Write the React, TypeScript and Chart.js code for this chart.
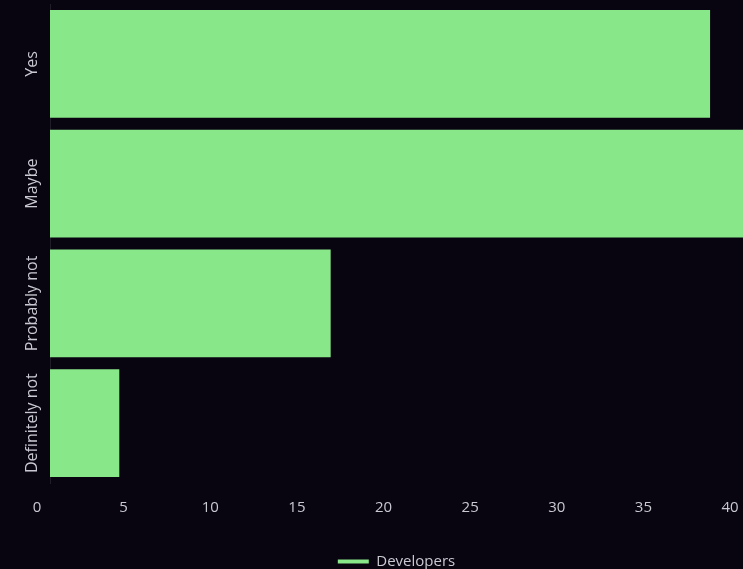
import React, { useEffect, useRef } from "react";
import { Chart, registerables } from "chart.js";

Chart.register(...registerables);

const categories = ["Yes", "Maybe", "Probably not", "Definitely not"];
const developers = [38.1, 40, 16.2, 4];
const seriesLabel = "Developers";
const xMin = 0;
const xMax = 40;
const xStep = 5;

const BG = "#080410";
const BAR = "#88e788";
const TEXT = "#c9c9d1";
const FAMILY = "'Open Sans', sans-serif";

export default function App() {
  const ref = useRef<HTMLCanvasElement>(null);

  useEffect(() => {
    const canvas = ref.current;
    if (!canvas) return;
    const ctx = canvas.getContext("2d")!;
    ctx.font = `normal 16px ${FAMILY}`;
    const widest = Math.max(...categories.map((c) => ctx.measureText(c).width));
    const yPad = 50 - 40 - widest / 2;

    const chart = new Chart(canvas, {
      type: "bar",
      data: {
        labels: categories,
        datasets: [
          {
            label: seriesLabel,
            data: developers,
            backgroundColor: BAR,
            borderColor: BAR,
            borderWidth: 0,
            categoryPercentage: 1,
            barPercentage: 0.9,
          },
        ],
      },
      options: {
        indexAxis: "y",
        animation: false,
        responsive: true,
        maintainAspectRatio: false,
        layout: { padding: { top: 4, left: 0, right: 0, bottom: 0 } },
        scales: {
          x: {
            min: xMin,
            max: xMax,
            grid: { display: false },
            border: { display: false },
            ticks: {
              stepSize: xStep,
              color: TEXT,
              padding: 8,
              labelOffset: -13,
              font: { family: FAMILY, size: 15 },
            },
            afterFit: (s: any) => {
              s.paddingLeft = 0;
              s.paddingRight = 0;
            },
          },
          y: {
            grid: { display: false },
            border: { display: true, color: "rgba(255,255,255,0.10)" },
            ticks: {
              color: TEXT,
              minRotation: 90,
              maxRotation: 90,
              crossAlign: "center",
              padding: yPad,
              font: { family: FAMILY, size: 16 },
            },
            afterFit: (s: any) => {
              s.width = 50;
              s.paddingTop = 0;
              s.paddingBottom = 0;
            },
          },
        },
        plugins: {
          legend: {
            position: "bottom",
            fullSize: false,
            labels: {
              color: TEXT,
              boxWidth: 31,
              boxHeight: 4,
              padding: 29,
              font: { family: FAMILY, size: 15 },
            },
          },
          tooltip: { enabled: false },
        },
      },
    } as any);

    return () => chart.destroy();
  }, []);

  return (
    <div
      style={{
        position: "fixed",
        left: 0,
        top: 0,
        width: 743,
        height: 569,
        overflow: "hidden",
        background: BG,
      }}
    >
      <div style={{ position: "relative", width: 743, height: 579 }}>
        <canvas ref={ref} />
      </div>
    </div>
  );
}
